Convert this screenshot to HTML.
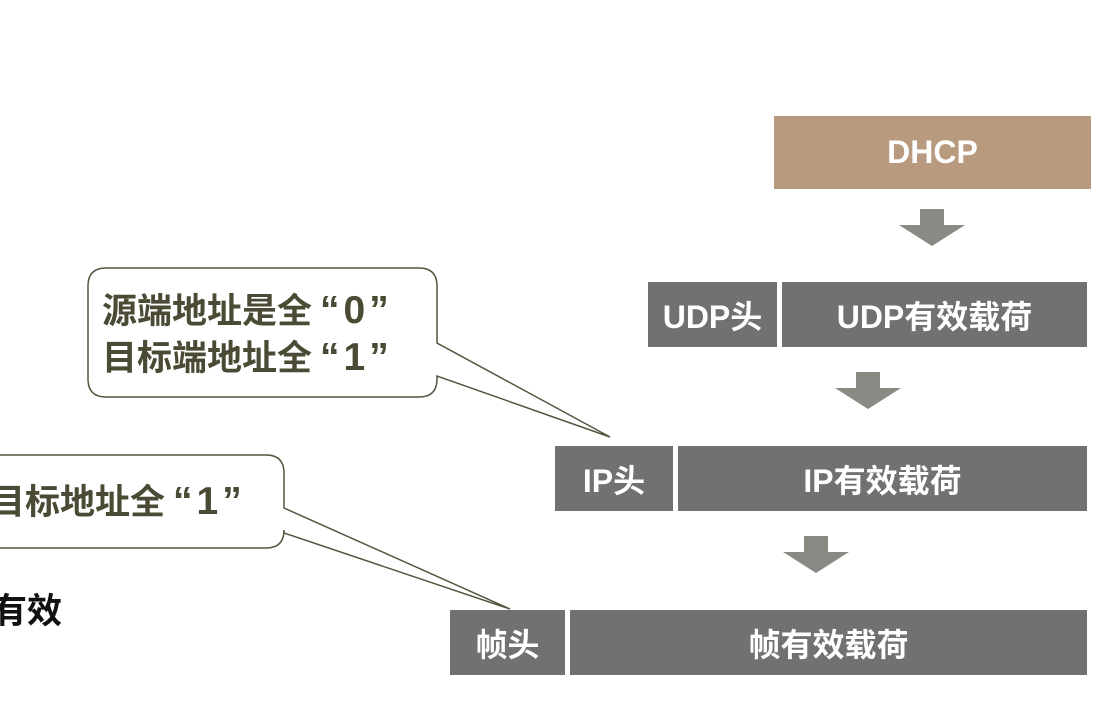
<!DOCTYPE html>
<html><head><meta charset="utf-8"><style>
body{margin:0;width:1114px;height:714px;background:#fff;overflow:hidden;position:relative;font-family:"Liberation Sans","Noto Sans CJK SC",sans-serif;font-weight:bold}
.b{position:absolute;background:#717171;color:#fff;display:flex;align-items:center;justify-content:center;font-size:32px}
.t{position:absolute;font-size:35px;line-height:46px;color:#4a4a35;white-space:nowrap}
.q{font-size:39px;letter-spacing:4px;margin-left:8px}
</style></head><body>
<svg width="1114" height="714" style="position:absolute;left:0;top:0">
<g fill="#8a8a84">
<polygon points="920,209 944,209 944,225 965,225 932,246 899,225 920,225"/>
<polygon points="856,372 880,372 880,388 901,388 868,409 835,388 856,388"/>
<polygon points="804,536 828,536 828,552 849,552 816,573 783,552 804,552"/>
</g>
<path d="M106,268 H419 Q437,268 437,286 V343 L610,437 L437,376 V379 Q437,397 419,397 H106 Q88,397 88,379 V286 Q88,268 106,268 Z" fill="#fff" stroke="#55553f" stroke-width="1.5"/>
<path d="M-20,455 H266 Q284,455 284,473 V508 L510,609 L284,533 V530 Q284,548 266,548 H-20 Z" fill="#fff" stroke="#55553f" stroke-width="1.5"/>
</svg>
<div class="t" style="left:102px;top:288px">源端地址是全<span class="q">“0”</span><br>目标端地址全<span class="q">“1”</span></div>
<div class="t" style="left:-10px;top:479px">目标地址全<span class="q">“1”</span></div>
<div style="position:absolute;left:-8px;top:583px;font-size:35px;color:#111">有效</div>
<div class="b" style="left:774px;top:116px;width:317px;height:73px;background:#b89a7e">DHCP</div>
<div class="b" style="left:648px;top:282px;width:129px;height:65px">UDP头</div>
<div class="b" style="left:782px;top:282px;width:305px;height:65px">UDP有效载荷</div>
<div class="b" style="left:555px;top:446px;width:118px;height:65px">IP头</div>
<div class="b" style="left:678px;top:446px;width:409px;height:65px">IP有效载荷</div>
<div class="b" style="left:450px;top:610px;width:115px;height:65px">帧头</div>
<div class="b" style="left:570px;top:610px;width:517px;height:65px">帧有效载荷</div>
</body></html>
